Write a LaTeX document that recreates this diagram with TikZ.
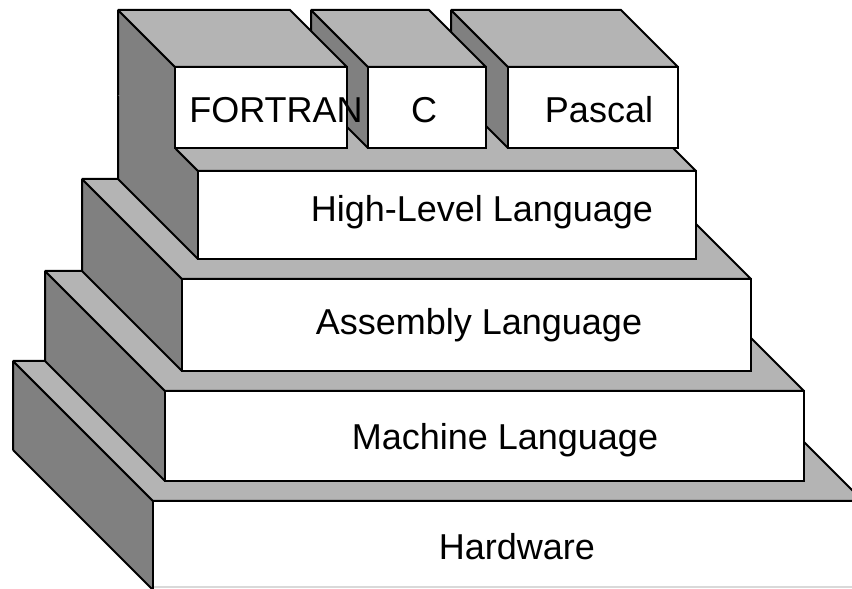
\documentclass[tikz,border=0pt]{standalone}
\usepackage{fontspec}
\setmainfont{Liberation Sans}
\usepackage{xcolor}

\definecolor{sidegray}{HTML}{808080}
\definecolor{topgray}{HTML}{B4B4B4}

\tikzset{
  sideface/.style={fill=sidegray},
  topface/.style={fill=topgray},
  frontface/.style={fill=white},
  edge/.style={draw=black, line width=1pt, line join=miter, miter limit=1.5},
  layertext/.style={font=\fontsize{18}{20}\selectfont, anchor=base, inner sep=0pt}
}

% \slab[lip]{x left}{x right}{y bottom}{y top}{z front}, back is always at z=140
\newcommand{\slab}[6][0]{%
  \fill[sideface] (#2,#4-#1,#6) -- (#2,#4-#1,140) -- (#2,#5,140) -- (#2,#5,#6) -- cycle;
  \ifdim #1pt=0pt \draw[edge] (#2,#4,#6) -- (#2,#4,140); \fi
  \draw[edge] (#2,#4-#1,140) -- (#2,#5,140) -- (#2,#5,#6);
  \filldraw[topface, edge] (#2,#5,#6) -- (#2,#5,140) -- (#3,#5,140) -- (#3,#5,#6) -- cycle;
  \filldraw[frontface, edge] (#2,#4,#6) rectangle (#3,#5,#6);
}

\begin{document}
\begin{tikzpicture}[x=0.5pt, y=0.5pt, z={(-0.5pt,0.5pt)}]
  \useasboundingbox (0,0) rectangle (852,589);
  \clip (0,0) rectangle (852,589);

  % Layers, bottom to top
  \slab{153}{863}{-1}{88}{0}       % Hardware
  \slab{185}{824}{88}{178}{20}     % Machine Language
  \slab{222}{791}{178}{270}{40}    % Assembly Language
  \slab{258}{756}{270}{358}{60}    % High-Level Language
  \slab{591}{761}{358}{439}{83}    % Pascal
  \slab{451}{569}{358}{439}{83}    % C
  \slab[4]{258}{430}{358}{439}{83} % FORTRAN

  % faint bottom rim of the hardware block
  \coordinate (rim) at (154,2);
  \draw[black!15, line width=0.6pt] (rim) -- (rim -| 852,0);

  % Labels
  \node[layertext] (hw) at (517,29) {Hardware};
  \node[layertext] (ml) at (505,139) {Machine Language};
  \node[layertext] (al) at (479,254) {Assembly Language};
  \node[layertext] (hl) at (482,367) {High-Level Language};
  \node[layertext] (pascal) at (599,466) {Pascal};
  \node[layertext] (c) at (424,466) {C};
  \node[layertext] (fortran) at (276,466) {FORTRAN};
\end{tikzpicture}
\end{document}
